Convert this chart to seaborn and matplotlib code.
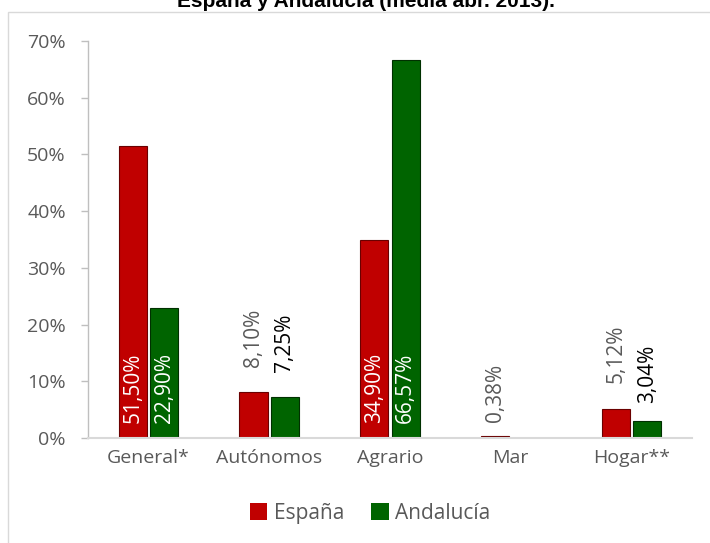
import pandas as pd
import matplotlib.pyplot as plt
import seaborn as sns
from matplotlib.patches import Rectangle

categorias = ['General*', 'Autónomos', 'Agrario', 'Mar', 'Hogar**']
espana = [51.50, 8.10, 34.90, 0.38, 5.12]
andalucia = [22.90, 7.25, 66.57, 0.00, 3.04]
etiquetas_esp = ['51,50%', '8,10%', '34,90%', '0,38%', '5,12%']
etiquetas_and = ['22,90%', '7,25%', '66,57%', '', '3,04%']
dentro = [True, False, True, False, False]

# separación (px) de las etiquetas exteriores respecto a la barra
sep_esp = [0, 25, 0, 14, 26]
sep_and = [0, 25, 0, 0, 18]

df = pd.DataFrame({
    'Régimen': categorias * 2,
    'Valor': espana + andalucia,
    'Zona': ['España'] * 5 + ['Andalucía'] * 5,
})

sns.set_style('white')
plt.rcParams['font.family'] = ['Open Sans', 'DejaVu Sans']

fig = plt.figure(figsize=(7.1, 5.43), dpi=100)
ax = fig.add_axes([88 / 710, 1 - 438 / 543, 604 / 710, 397 / 543])

colores = {'España': '#C00000', 'Andalucía': '#006400'}
sns.barplot(data=df, x='Régimen', y='Valor', hue='Zona', palette=colores,
            width=0.52, gap=0.1, saturation=1, edgecolor='none', ax=ax, legend=True)

# borde oscuro para imitar el relieve
for cont, oscuro in zip(ax.containers, ['#6a0000', '#003000']):
    for b in cont:
        b.set_edgecolor(oscuro)
        b.set_linewidth(0.8)

for cont, labs, seps, color_out in zip(ax.containers, [etiquetas_esp, etiquetas_and],
                                       [sep_esp, sep_and], ['#595959', '#000000']):
    for b, lab, d, s in zip(cont, labs, dentro, seps):
        if not lab:
            continue
        x = b.get_x() + b.get_width() / 2
        if d:
            ax.text(x, 2.6, lab, rotation=90, ha='center', va='bottom',
                    color='white', fontsize=15)
        else:
            ax.annotate(lab, (x, b.get_height()), xytext=(0, s * 0.72),
                        textcoords='offset points', rotation=90,
                        ha='center', va='bottom', color=color_out, fontsize=15)

ax.set_ylim(0, 70)
ax.set_xlim(-0.5, 4.5)
ax.set_yticks(range(0, 71, 10))
ax.set_yticklabels([f'{v}%' for v in range(0, 71, 10)])
ax.set_xlabel('')
ax.set_ylabel('')
ax.tick_params(axis='both', labelsize=14, labelcolor='#595959')
ax.tick_params(axis='y', left=True, length=5, width=1, color='#bfbfbf', pad=11)
ax.tick_params(axis='x', length=0, pad=8)
for s in ['top', 'right']:
    ax.spines[s].set_visible(False)
ax.spines['left'].set_color('#bfbfbf')
ax.spines['left'].set_linewidth(1)
ax.spines['bottom'].set_color('#d9d9d9')
ax.spines['bottom'].set_linewidth(1.5)

leg = ax.legend(loc='center', bbox_to_anchor=(0.467, -0.19), ncol=2, frameon=False,
                fontsize=15, handlelength=0.85, handleheight=0.85,
                handletextpad=0.3, columnspacing=1.3)
for t in leg.get_texts():
    t.set_color('#595959')

fig.patches.append(Rectangle((8 / 710, -0.1), 1.2, 1 - 12 / 543 + 0.1,
                             transform=fig.transFigure, fill=False,
                             edgecolor='#d9d9d9', linewidth=1))

fig.text(366 / 710, 1 - 7 / 543, 'España y Andalucía (media abr. 2013).',
         ha='center', va='baseline', fontsize=15, fontweight='bold',
         color='black', family='Liberation Sans')

fig.savefig('out.png', dpi=100)
